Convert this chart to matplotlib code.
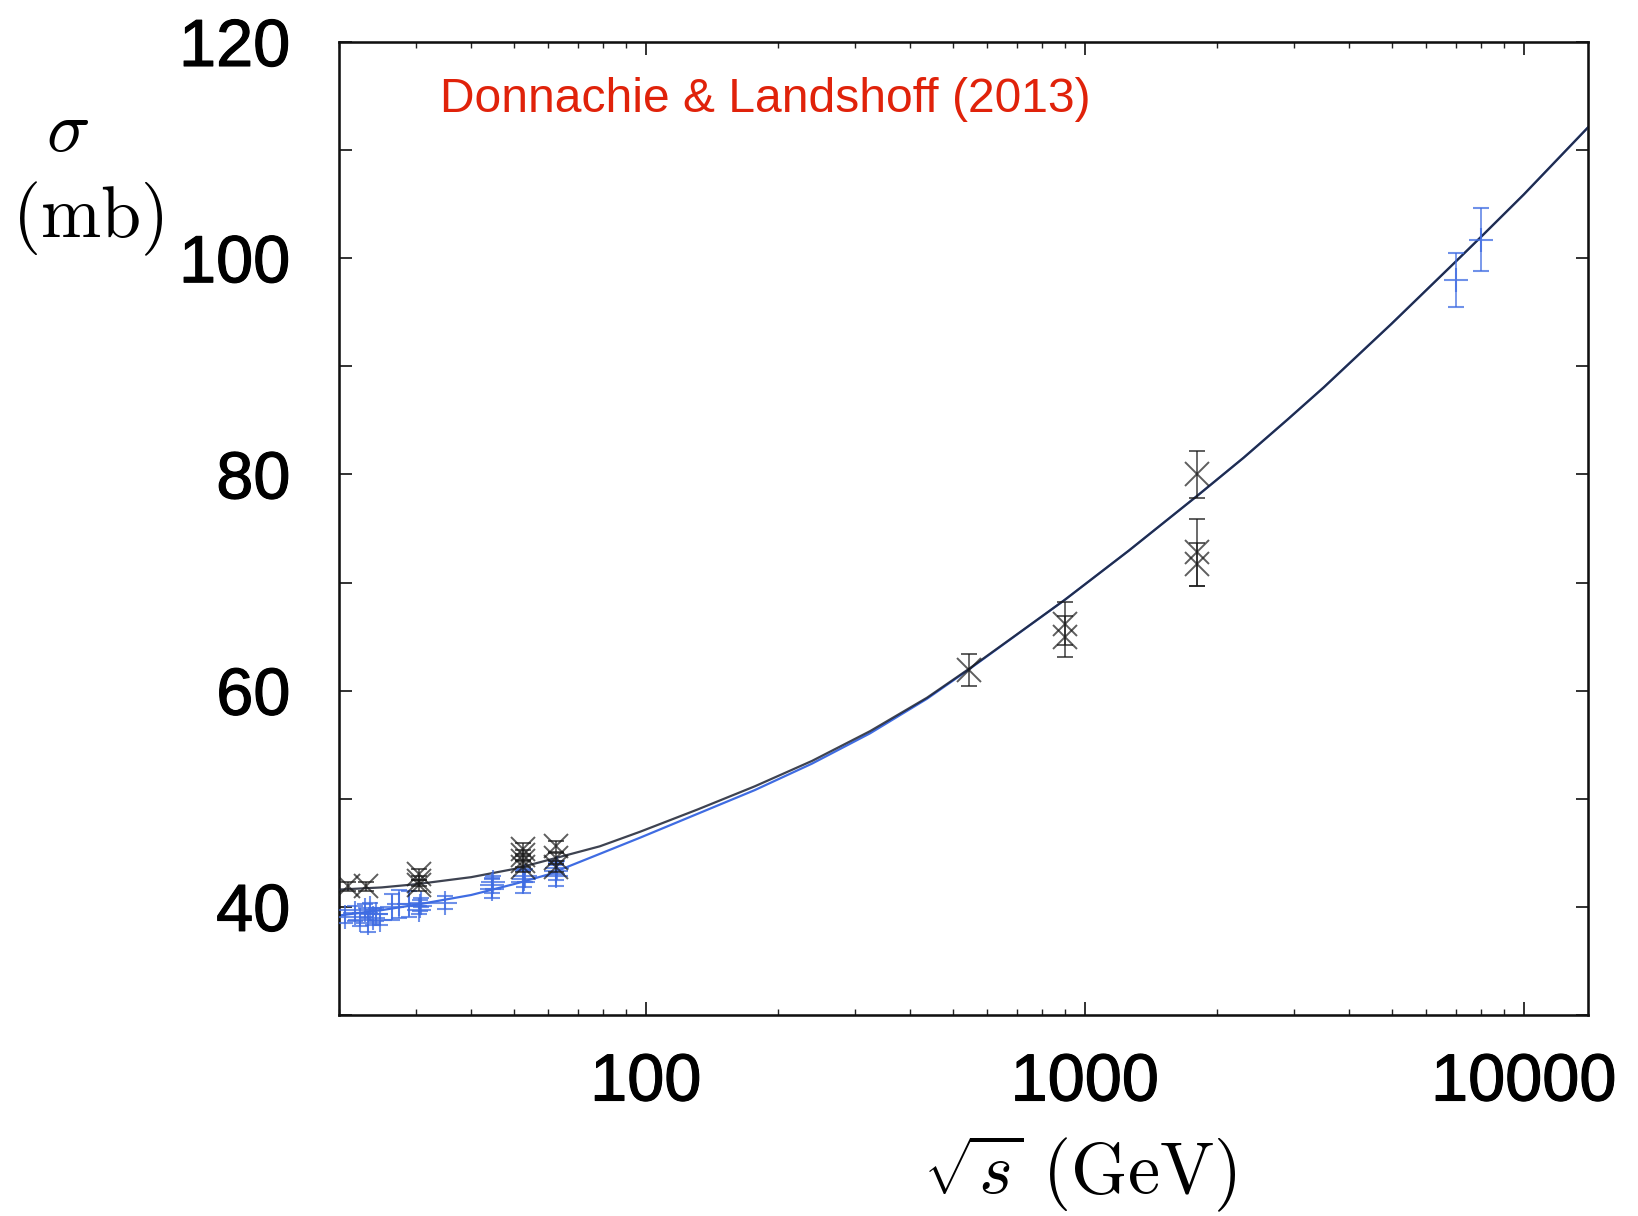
import matplotlib
matplotlib.use("Agg")
import matplotlib.pyplot as plt
import matplotlib.patheffects as pe
from matplotlib.ticker import FixedLocator, NullFormatter, LogLocator

plt.rcParams['mathtext.fontset'] = 'cm'

# ---- data ----
# Donnachie-Landshoff fit curves (sqrt(s) in GeV, sigma in mb)
fit_pbarp_x = [20, 25, 30, 40, 50, 57, 78.5, 97, 131, 177, 239, 324, 437, 546, 689,
               900, 1259, 1800, 2300, 2890, 3500, 5000, 7000, 8000, 10000, 14000]
fit_pbarp_y = [41.6, 41.8, 42.1, 42.75, 43.5, 44.1, 45.6, 46.95, 49.0, 51.15, 53.5, 56.25, 59.35, 62.05, 65.0,
               68.4, 72.95, 78.0, 81.55, 85.05, 88.05, 93.95, 99.7, 102.0, 105.9, 112.1]
fit_pp_x = [20, 25, 30, 40, 50, 60, 78.5, 97, 131, 177, 239, 324, 437, 546, 689,
            900, 1259, 1800, 2300, 2890, 3500, 5000, 7000, 8000, 10000, 14000]
fit_pp_y = [39.2, 39.7, 40.2, 41.1, 42.1, 43.0, 44.9, 46.4, 48.6, 50.8, 53.25, 56.05, 59.25, 62.0, 64.98,
            68.4, 72.95, 78.0, 81.55, 85.05, 88.05, 93.95, 99.7, 102.0, 105.9, 112.1]

# pp data (blue +)
pp_x = [20.6, 21.8, 22.3, 22.9, 23.3, 23.5, 23.9, 24.3, 24.8, 26.4, 27.4, 28.8,
        30.5, 30.6, 30.7, 34.9, 44.6, 44.7, 44.8, 52.6, 52.8, 53.0, 62.3, 62.5, 62.7,
        7000, 8000]
pp_y = [39.1, 39.4, 38.8, 39.7, 38.5, 39.9, 39.0, 39.3, 38.8, 40.0, 40.3, 40.3,
        39.7, 40.1, 40.4, 40.4, 41.7, 42.0, 42.3, 42.3, 42.6, 42.9, 42.9, 43.3, 43.6,
        98.0, 101.7]
pp_err = [0.6, 0.7, 0.6, 0.6, 0.8, 0.5, 0.7, 0.6, 0.5, 1.2, 1.3, 1.2,
          0.4, 0.5, 0.4, 0.6, 0.9, 0.7, 0.6, 1.0, 0.8, 0.6, 1.0, 0.8, 0.6,
          2.5, 2.9]

# pbar-p data (black x)
pbarp_x = [21.0, 23.0, 30.4, 30.4, 30.4, 52.6, 52.6, 52.6, 52.6, 62.3, 62.3, 62.3,
           546, 900, 900, 1800, 1800, 1800]
pbarp_y = [41.9, 41.9, 42.0, 42.4, 43.0, 43.7, 44.2, 44.8, 45.4, 43.7, 44.5, 45.6,
           61.9, 66.2, 65.0, 80.0, 72.8, 71.7]
pbarp_err = [0.4, 0.4, 0.5, 0.5, 0.5, 0.5, 0.5, 0.5, 0.5, 0.5, 0.5, 0.5,
             1.5, 2.0, 1.9, 2.2, 3.1, 2.0]

y_major = [40, 60, 80, 100, 120]
y_all = [30, 40, 50, 60, 70, 80, 90, 100, 110, 120]
x_major = [100, 1000, 10000]
x_labels = ['100', '1000', '10000']

BLUE = '#3f6ce2'
BLACK = '#1a1a1a'
RED = '#e0220a'

fig = plt.figure(figsize=(16.38, 12.16), dpi=100)
ax = fig.add_axes([339/1638, 1-1015/1216, (1588-339)/1638, (1015-42)/1216])

ax.plot(fit_pp_x, fit_pp_y, color=BLUE, lw=1.6, zorder=2)
ax.plot(fit_pbarp_x, fit_pbarp_y, color='#1c2233', lw=1.6, alpha=0.85, zorder=3)

ax.errorbar(pp_x, pp_y, yerr=pp_err, fmt='+', color=BLUE, ms=17, mew=1.5,
            elinewidth=1.3, capsize=6, capthick=1.3, alpha=0.75, zorder=4)
ax.errorbar(pbarp_x, pbarp_y, yerr=pbarp_err, fmt='x', color=BLACK, ms=17, mew=1.4,
            elinewidth=1.3, capsize=6, capthick=1.3, alpha=0.7, zorder=5)

ax.set_xscale('log')
ax.set_xlim(20, 14000)
ax.set_ylim(30, 120)

ax.xaxis.set_major_locator(FixedLocator(x_major))
ax.set_xticklabels(x_labels)
ax.xaxis.set_minor_locator(LogLocator(base=10, subs=range(2, 10)))
ax.xaxis.set_minor_formatter(NullFormatter())
ax.yaxis.set_major_locator(FixedLocator(y_all))
ax.set_yticklabels([str(v) if v in y_major else '' for v in y_all])

thick = [pe.withStroke(linewidth=0.8, foreground='black')]
for lab in ax.get_xticklabels() + ax.get_yticklabels():
    lab.set_fontfamily('Liberation Sans')
    lab.set_fontsize(48)
    lab.set_path_effects(thick)

ax.tick_params(axis='both', which='both', direction='in', top=True, right=True, color='#222222')
ax.tick_params(axis='y', which='major', length=9, width=1.3, pad=35)
ax.tick_params(axis='x', which='major', length=9.5, width=1.3, pad=27)
ax.tick_params(axis='x', which='minor', length=4.5, width=1.0)

for s in ax.spines.values():
    s.set_linewidth(1.85)
    s.set_color('#111111')

fig.text(440/1638, 1-99/1216, 'Donnachie & Landshoff (2013)', color=RED,
         fontfamily='Liberation Sans', fontsize=34.6, ha='left', va='center')

fig.text(68/1638, 1-131/1216, r'$\sigma$', fontsize=52, ha='center', va='center')
fig.text(88/1638, 1-219/1216, r'$(\mathrm{mb})$', fontsize=52, ha='center', va='center')
fig.text(1080/1638, 1-1173/1216, r'$\sqrt{s}\ (\mathrm{GeV})$', fontsize=52,
         ha='center', va='center')

fig.savefig('out.png', dpi=100)
